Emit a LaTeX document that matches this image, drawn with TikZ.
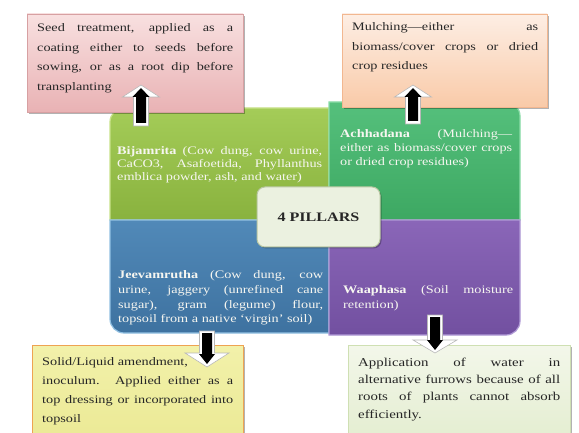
\documentclass[tikz,border=0pt]{standalone}
\usepackage{fontspec}
\setmainfont{Liberation Serif}[FakeStretch=1.24]
\usetikzlibrary{calc,shadows}

\definecolor{txtdark}{HTML}{262626}
\definecolor{qwhite}{HTML}{F6F6F0}
\definecolor{pinkT}{HTML}{F8E0E0}\definecolor{pinkB}{HTML}{E9B2B4}\definecolor{pinkE}{HTML}{D7A0A2}
\definecolor{oranT}{HTML}{FDEEE4}\definecolor{oranB}{HTML}{F9CAA8}\definecolor{oranE}{HTML}{F2B790}
\definecolor{yelT}{HTML}{F2F1AA}\definecolor{yelB}{HTML}{EBE994}\definecolor{yelE}{HTML}{EEA352}
\definecolor{lgrT}{HTML}{F3F7EA}\definecolor{lgrB}{HTML}{E3EDCF}\definecolor{lgrE}{HTML}{CFE0B3}
\definecolor{limeT}{HTML}{A4CC58}\definecolor{limeB}{HTML}{89B23E}\definecolor{limeE}{HTML}{C8E28A}
\definecolor{tealT}{HTML}{55C07C}\definecolor{tealB}{HTML}{3DA862}\definecolor{tealE}{HTML}{8BDCA8}
\definecolor{bluT}{HTML}{5189B8}\definecolor{bluB}{HTML}{3E72A0}\definecolor{bluE}{HTML}{92C1E3}
\definecolor{purT}{HTML}{8A66B8}\definecolor{purB}{HTML}{7250A0}\definecolor{purE}{HTML}{B09AD6}
\definecolor{ctrF}{HTML}{EBF1E0}\definecolor{ctrE}{HTML}{B9C7A2}

\newcommand{\blockarr}[6]{%
  \coordinate (hb) at ($(#3)!#6!(#2)$);
  \path[#1] ($(#2)!#4!90:(#3)$) -- ($(hb)!#4!90:(#3)$) -- ($(hb)!#5!90:(#3)$) -- (#3)
    -- ($(hb)!#5!-90:(#3)$) -- ($(hb)!#4!-90:(#3)$) -- ($(#2)!#4!-90:(#3)$) -- cycle;}

\tikzset{
  boxbase/.style={rectangle, inner sep=0pt, line width=0.8pt,
    drop shadow={shadow xshift=2pt, shadow yshift=-2pt, opacity=0.3, fill=black}},
  ctext/.style={anchor=base west, inner sep=0pt, align=justify, text=txtdark},
  qtext/.style={anchor=base west, inner sep=0pt, align=justify, text=qwhite},
  quad/.style={line width=1.2pt},
  arrout/.style={fill=white, draw=black!28, line width=0.6pt},
  arrin/.style={fill=black},
}

\begin{document}
\begin{tikzpicture}[x=1pt,y=-1pt]
\useasboundingbox (0,0) rectangle (579,433);
\fill[white] (0,0) rectangle (579,433);

% quadrants
\shadedraw[quad, top color=limeT, bottom color=limeB, draw=limeE]
  (329,220) -- (110,220) -- (110,122) arc[start angle=180, end angle=270, radius=14] -- (329,108) -- cycle;
\shadedraw[quad, top color=tealT, bottom color=tealB, draw=tealE]
  (329,220) -- (329,102) -- (506,102) arc[start angle=270, end angle=360, radius=14] -- (520,220) -- cycle;
\shadedraw[quad, top color=bluT, bottom color=bluB, draw=bluE]
  (329,220) -- (110,220) -- (110,319) arc[start angle=180, end angle=90, radius=14] -- (329,333) -- cycle;
\shadedraw[quad, top color=purT, bottom color=purB, draw=purE]
  (329,220) -- (520,220) -- (520,321) arc[start angle=0, end angle=90, radius=14] -- (329,335) -- cycle;

\node[qtext, text width=205pt, font={\fontsize{11.5}{13}\selectfont}] (bij) at (117,155)
  {\textbf{Bijamrita} (Cow dung, cow urine,\linebreak CaCO3, Asafoetida, Phyllanthus\linebreak emblica powder, ash, and water)};
\node[qtext, text width=172pt, font={\fontsize{11.5}{14}\selectfont}] (ach) at (340,138)
  {\textbf{Achhadana} (Mulching---\linebreak either as biomass/cover crops\linebreak or dried crop residues)};
\node[qtext, text width=205pt, font={\fontsize{11.5}{15}\selectfont}] (jee) at (118,278)
  {\textbf{Jeevamrutha} (Cow dung, cow\linebreak urine, jaggery (unrefined cane\linebreak sugar), gram (legume) flour,\linebreak topsoil from a native `virgin' soil)};
\node[qtext, text width=170pt, font={\fontsize{11.5}{15}\selectfont}] (waa) at (343,293)
  {\textbf{Waaphasa} (Soil moisture\linebreak retention)};

% callout boxes
\node[boxbase, top color=pinkT, bottom color=pinkB, draw=pinkE, minimum width=216pt, minimum height=98pt] (pinkbox) at (135,63) {};
\node[boxbase, top color=oranT, bottom color=oranB, draw=oranE, minimum width=205pt, minimum height=93pt] (orabox) at (444.5,60.5) {};
\node[boxbase, top color=yelT, bottom color=yelB, draw=yelE, line width=1pt, minimum width=211pt, minimum height=100pt] (yelbox) at (137.5,395) {};
\node[boxbase, top color=lgrT, bottom color=lgrB, draw=lgrE, minimum width=222pt, minimum height=100pt] (lgrbox) at (459,395) {};

\node[ctext, text width=196pt, font={\fontsize{11.5}{19.5}\selectfont}] (pinktxt) at (37,32)
  {Seed treatment, applied as a\linebreak coating either to seeds before\linebreak sowing, or as a root dip before\linebreak transplanting};
\node[ctext, text width=186pt, font={\fontsize{11.5}{19.5}\selectfont}] (oratxt) at (352,31)
  {Mulching---either as\linebreak biomass/cover crops or dried\linebreak crop residues};
\node[ctext, text width=191pt, font={\fontsize{11.5}{19}\selectfont}] (yeltxt) at (42,365)
  {Solid/Liquid amendment,\newline inoculum. Applied either as a\linebreak top dressing or incorporated into\linebreak topsoil};
\node[ctext, text width=202pt, font={\fontsize{12}{17.5}\selectfont}] (lgrtxt) at (358,366)
  {Application of water in\linebreak alternative furrows because of all\linebreak roots of plants cannot absorb\linebreak efficiently.};

% centre
\node[rectangle, rounded corners=8pt, fill=ctrF, draw=ctrE, line width=1pt,
  minimum width=123pt, minimum height=60pt, text=txtdark,
  font={\fontsize{13}{15}\selectfont\bfseries},
  drop shadow={shadow xshift=1.5pt, shadow yshift=-1.5pt, opacity=0.25, fill=black}] (ctr) at (318.5,217) {4 PILLARS};

% arrow end points
\coordinate (a1s) at (141,126); \coordinate (a1e) at (141,85);
\coordinate (a1bs) at (141,123); \coordinate (a1be) at (141,88);
\coordinate (a2s) at (413,124); \coordinate (a2e) at (413,85);
\coordinate (a2bs) at (413,121); \coordinate (a2be) at (413,88);
\coordinate (a3s) at (207,331); \coordinate (a3e) at (207,367);
\coordinate (a3bs) at (207,333); \coordinate (a3be) at (207,364);
\coordinate (a4s) at (435,315); \coordinate (a4e) at (435,353);
\coordinate (a4bs) at (435,317); \coordinate (a4be) at (435,350);

\blockarr{arrout}{a1s}{a1e}{7.5pt}{18.5pt}{12pt}
\blockarr{arrin}{a1bs}{a1be}{5pt}{8.5pt}{9pt}
\blockarr{arrout}{a2s}{a2e}{7.5pt}{18.5pt}{12pt}
\blockarr{arrin}{a2bs}{a2be}{5pt}{8.5pt}{9pt}
\blockarr{arrout}{a3s}{a3e}{7.5pt}{22pt}{14pt}
\blockarr{arrin}{a3bs}{a3be}{5pt}{8pt}{10pt}
\blockarr{arrout}{a4s}{a4e}{7.5pt}{22pt}{13pt}
\blockarr{arrin}{a4bs}{a4be}{5pt}{8pt}{10pt}
\end{tikzpicture}
\end{document}
